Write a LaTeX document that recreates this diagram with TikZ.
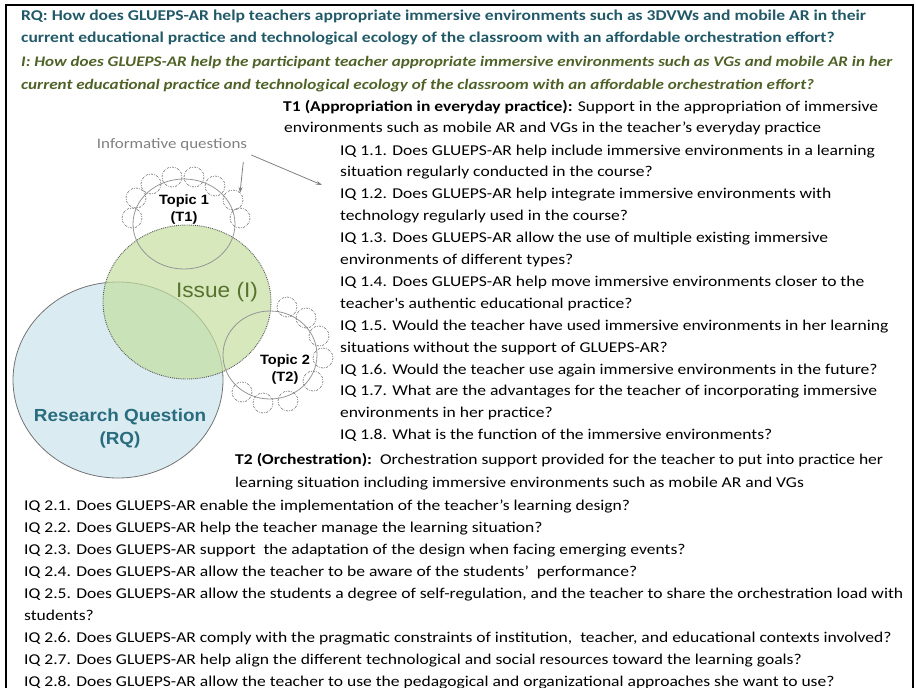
\documentclass[tikz,border=0pt]{standalone}
\usepackage{fontspec}
\setmainfont{Carlito}[FakeStretch=1.17]
\newfontfamily\arialfont{Liberation Sans}[FakeStretch=1.08]
\usetikzlibrary{arrows.meta}

\definecolor{rqteal}{RGB}{33,89,104}
\definecolor{iolive}{RGB}{79,98,40}
\definecolor{rqfill}{RGB}{218,236,242}
\definecolor{issuefill}{RGB}{196,222,160}
\definecolor{rqtext}{RGB}{40,108,126}
\definecolor{issuetext}{RGB}{86,114,46}
\definecolor{ringgray}{RGB}{150,150,150}
\definecolor{dotgray}{RGB}{105,105,105}

\tikzset{
  txt/.style={anchor=base west, inner sep=0pt, font=\fontsize{15}{18}\selectfont},
  rqline/.style={txt, text=rqteal, font=\fontsize{15}{18}\selectfont\bfseries},
  iline/.style={txt, text=iolive, font=\fontsize{14.6}{18}\selectfont\bfseries\itshape},
  topic/.style={align=center, inner sep=0pt, font=\arialfont\bfseries\fontsize{13.5}{17}\selectfont},
  ring/.style={draw=ringgray, line width=0.8pt},
  iqring/.style={draw=dotgray, line width=0.6pt, dash pattern=on 2.2pt off 1.2pt on 0.6pt off 1.2pt},
  arr/.style={draw=gray, line width=0.8pt, -{Stealth[length=6pt,width=4pt]}}
}

\begin{document}
\begin{tikzpicture}[x=1pt,y=-1pt]
  \useasboundingbox (0,0) rectangle (916,688);
  % Frame (bottom edge outside the page)
  \draw[line width=2pt] (6,700) -- (6,5) -- (913,5) -- (913,700);

  % Research question and issue
  \node[rqline] (rq1) at (21,20) {RQ: How does GLUEPS-AR help teachers appropriate immersive environments such as 3DVWs and mobile AR in their};
  \node[rqline] (rq2) at (21,42) {current educational practice and technological ecology of the classroom with an affordable orchestration effort?};
  \node[iline] (i1) at (21,66) {I: How does GLUEPS-AR help the participant teacher appropriate immersive environments such as VGs and mobile AR in her};
  \node[iline] (i2) at (21,89) {current educational practice and technological ecology of the classroom with an affordable orchestration effort?};

  % Circles
  \draw[draw=black!55, line width=0.8pt, fill=rqfill] (118,380) ellipse (105 and 98);
  \draw[draw=black!65, line width=0.9pt, densely dotted, fill=issuefill, fill opacity=0.7] (187,302) ellipse (84 and 77);
  \draw[ring] (184,224) ellipse (51 and 45);
  \draw[ring] (270,355) ellipse (47 and 44);

  % Informative questions round the topics
  \foreach \p in {(132,218),(136,198),(151,184),(172,177),(194,177),(215,186),(233,200),(240,218)}
    \draw[iqring] \p circle (10);
  \foreach \p in {(287,307),(306,318),(319,336),(323,358),(313,381),(288,401),(263,403),(242,392)}
    \draw[iqring] \p circle (10);

  % Circle labels
  \node[topic] (t1) at (184,210) {Topic 1\\(T1)};
  \node[topic] (t2) at (285,370) {Topic 2\\(T2)};
  \node[inner sep=0pt, text=issuetext, font=\arialfont\fontsize{21}{24}\selectfont] (issue) at (217,292) {Issue (I)};
  \node[align=center, inner sep=0pt, text=rqtext, font=\arialfont\bfseries\fontsize{17.5}{23}\selectfont] (rq) at (120,428) {Research Question\\(RQ)};

  % Informative questions label and arrows
  \node[inner sep=0pt, text=gray, font=\fontsize{14.5}{18}\selectfont] (iq) at (172,145) {Informative questions};
  \coordinate (q1) at (240,193);
  \coordinate (q2) at (322,185);
  \draw[arr] ([xshift=-4pt,yshift=-17pt]iq.east) -- (q1);
  \draw[arr] ([xshift=4pt,yshift=-10pt]iq.east) -- (q2);

  % Topic 1
  \node[txt] (t1a) at (283,111) {\textbf{T1 (Appropriation in everyday practice):} Support in the appropriation of immersive};
  \node[txt] (t1b) at (284,132) {environments such as mobile AR and VGs in the teacher’s everyday practice};
  \foreach \t [count=\i from 0] in {
    {IQ 1.1. Does GLUEPS-AR help include immersive environments in a learning},
    {situation regularly conducted in the course?},
    {IQ 1.2. Does GLUEPS-AR help integrate immersive environments with},
    {technology regularly used in the course?},
    {IQ 1.3. Does GLUEPS-AR allow the use of multiple existing immersive},
    {environments of different types?},
    {IQ 1.4. Does GLUEPS-AR help move immersive environments closer to the},
    {teacher\textquotesingle s authentic educational practice?},
    {IQ 1.5. Would the teacher have used immersive environments in her learning},
    {situations without the support of GLUEPS-AR?},
    {IQ 1.6. Would the teacher use again immersive environments in the future?},
    {IQ 1.7. What are the advantages for the teacher of incorporating immersive},
    {environments in her practice?},
    {IQ 1.8. What is the function of the immersive environments?}}
    \node[txt] (iqa\i) at (340,155+21.9*\i) {\t};

  % Topic 2
  \node[txt] (t2a) at (235,464) {\textbf{T2 (Orchestration):}\ \ Orchestration support provided for the teacher to put into practice her};
  \node[txt] (t2b) at (235,487) {learning situation including immersive environments such as mobile AR and VGs};
  \foreach \t [count=\i from 0] in {
    {IQ 2.1. Does GLUEPS-AR enable the implementation of the teacher’s learning design?},
    {IQ 2.2. Does GLUEPS-AR help the teacher manage the learning situation?},
    {IQ 2.3. Does GLUEPS-AR support\ \ the adaptation of the design when facing emerging events?},
    {IQ 2.4. Does GLUEPS-AR allow the teacher to be aware of the students’\ \ performance?},
    {IQ 2.5. Does GLUEPS-AR allow the students a degree of self-regulation, and the teacher to share the orchestration load with},
    {students?},
    {IQ 2.6. Does GLUEPS-AR comply with the pragmatic constraints of institution,\ \ teacher, and educational contexts involved?},
    {IQ 2.7. Does GLUEPS-AR help align the different technological and social resources toward the learning goals?},
    {IQ 2.8. Does GLUEPS-AR allow the teacher to use the pedagogical and organizational approaches she want to use?}}
    \node[txt] (iqb\i) at (24,510+22*\i) {\t};
\end{tikzpicture}
\end{document}
